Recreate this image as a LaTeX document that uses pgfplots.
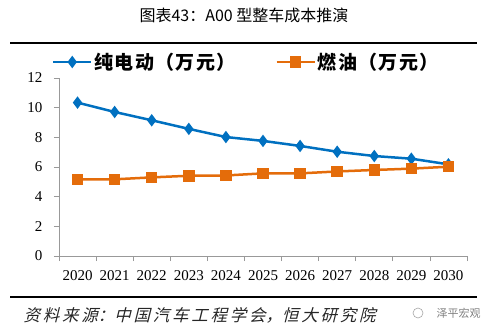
\documentclass[border=0pt]{standalone}
\usepackage{pgfplots}
\pgfplotsset{compat=1.18}
\usepackage{fontspec}
\setmainfont{Liberation Serif}
\newfontfamily\cjk{Noto Sans CJK SC}
\newfontfamily\cjkleg[LetterSpace=7]{Noto Sans CJK SC}
\newfontfamily\cjkit[FakeSlant=0.25]{Noto Sans CJK SC}
\definecolor{evblue}{RGB}{0,112,192}
\definecolor{oilorange}{RGB}{228,108,10}
\begin{document}
\begin{tikzpicture}
\path (0bp,0bp) rectangle (497bp,-334bp);
\node[font=\cjk\fontsize{16bp}{18bp}\selectfont, anchor=center] at (244bp,-15bp) {图表43：A00 型整车成本推演};
\draw[line width=2bp] (10bp,-43bp) -- (477bp,-43bp);
\draw[line width=2bp] (10bp,-297bp) -- (477bp,-297bp);
\node[font=\cjkit\fontsize{16.5bp}{18bp}\selectfont, anchor=west, text=black!85] at (20bp,-315bp) {资\,料\,来\,源：中\,国\,汽\,车\,工\,程\,学\,会，恒\,大\,研\,究\,院\,};
\node[font=\cjk\fontsize{11bp}{13bp}\selectfont, anchor=west, text=gray] at (433bp,-313bp) {泽平宏观};
\draw[gray!70, line width=0.6bp] (418bp,-313bp) circle (5bp);
\begin{axis}[
  at={(59bp,-256bp)}, anchor=south west,
  scale only axis, width=408bp, height=178bp,
  xmin=-0.5, xmax=10.5, ymin=0, ymax=12,
  axis lines=left,
  axis line style={draw=gray!80, line width=0.8bp, -},
  xtick={0,...,10},
  xticklabels={2020,2021,2022,2023,2024,2025,2026,2027,2028,2029,2030},
  minor xtick={-0.5,0.5,...,10.5},
  major x tick style={draw=none},
  minor x tick style={draw=gray!80, line width=0.8bp},
  minor tick length=5bp,
  ytick={0,2,...,12},
  y tick style={draw=gray!80, line width=0.8bp},
  major tick length=5bp,
  tick align=outside,
  tick label style={font=\fontsize{15bp}{17bp}\selectfont},
  /pgf/number format/assume math mode=true,
  xticklabel style={yshift=-6bp},
  yticklabel style={xshift=-8bp},
  clip=false,
  legend columns=2,
  legend style={at={(-0.025,1.09)}, anchor=west, draw=none, fill=none,
    font=\cjkleg\bfseries\fontsize{19bp}{21bp}\selectfont,
    /tikz/every even column/.append style={column sep=38bp}},
  legend image code/.code={
    \draw[#1, mark repeat=2, mark phase=2] plot coordinates {(0bp,0bp) (19bp,0bp) (38bp,0bp)};
  },
]
\addplot[evblue, line width=2.5bp, mark=diamond*, mark size=4.2bp, mark options={solid}] coordinates {
(0,10.34) (1,9.71) (2,9.15) (3,8.57) (4,8.02) (5,7.76) (6,7.42) (7,7.03) (8,6.74) (9,6.56) (10,6.18)
};
\addlegendentry{纯电动（万元）}
\addplot[oilorange, line width=2.5bp, mark=square*, mark size=4.5bp, mark options={solid}] coordinates {
(0,5.17) (1,5.17) (2,5.30) (3,5.41) (4,5.43) (5,5.57) (6,5.57) (7,5.70) (8,5.80) (9,5.89) (10,6.02)
};
\addlegendentry{燃油（万元）}
\end{axis}
\end{tikzpicture}
\end{document}
